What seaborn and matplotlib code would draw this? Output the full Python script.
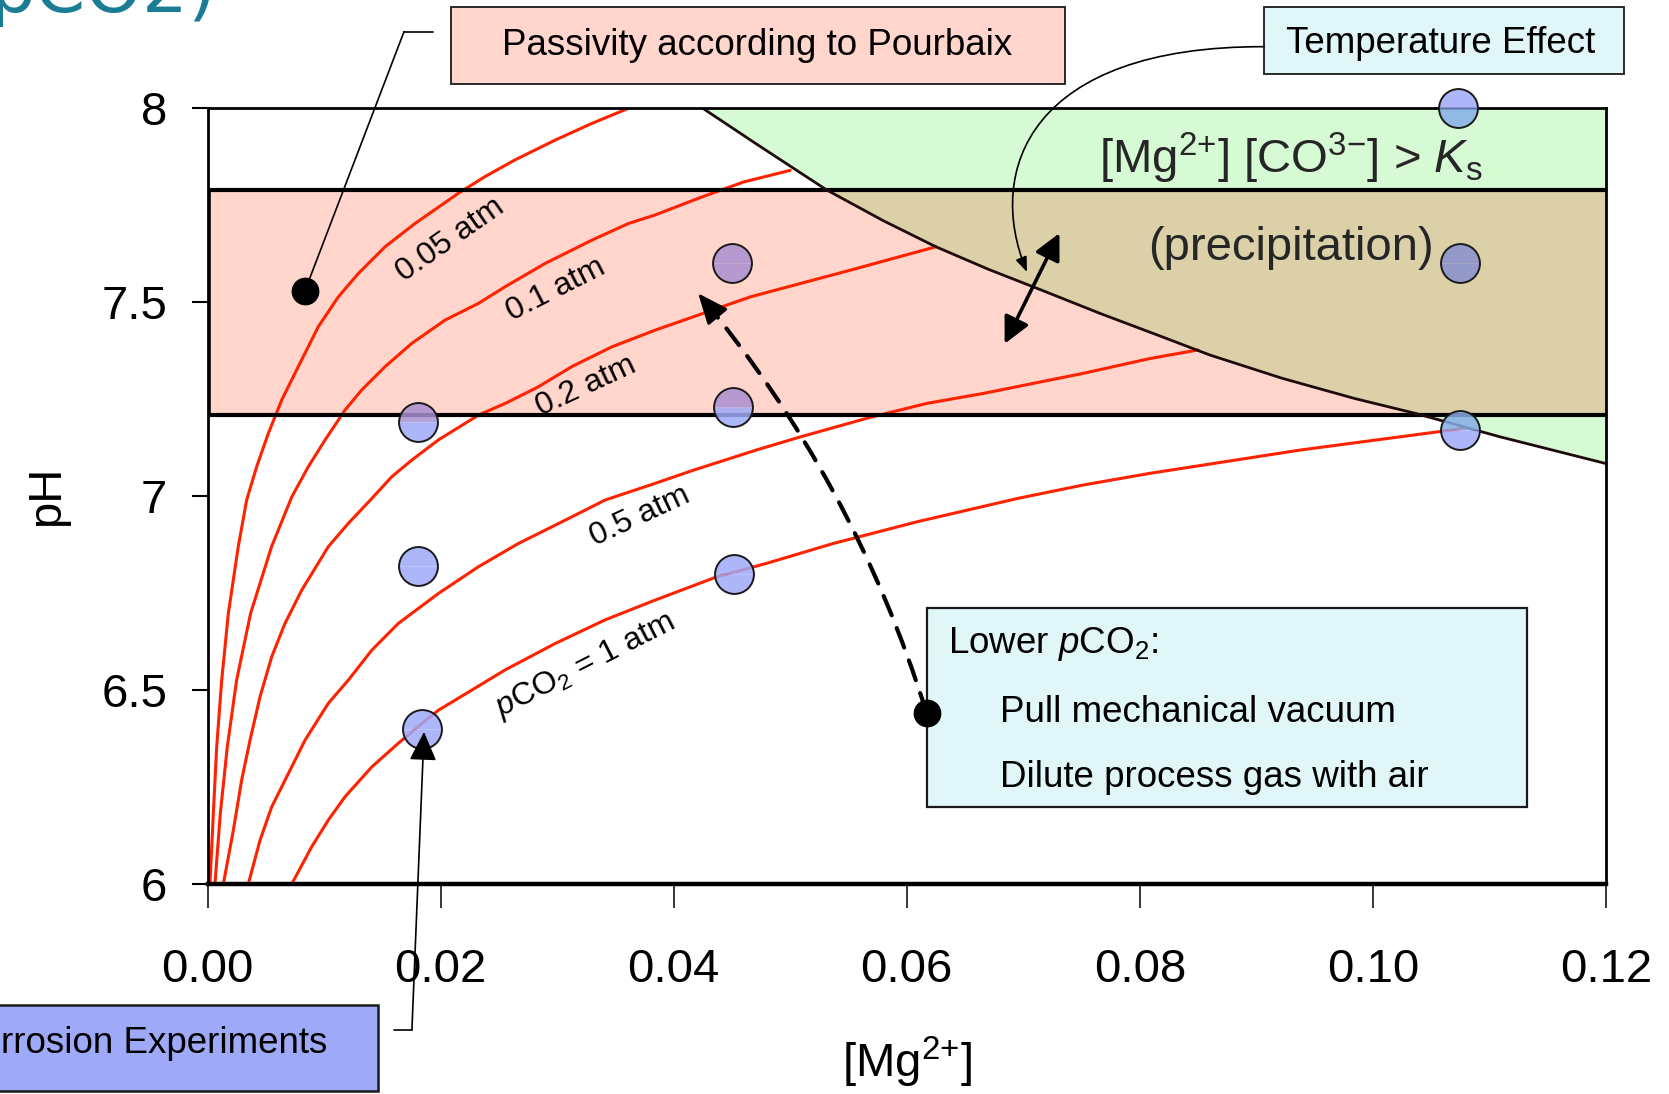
import numpy as np
import pandas as pd
import matplotlib
matplotlib.use("Agg")
import matplotlib.pyplot as plt
import seaborn as sns
from matplotlib.patches import Rectangle, FancyArrowPatch
from matplotlib.path import Path
from matplotlib.lines import Line2D
from matplotlib.ticker import FixedLocator, FuncFormatter


# ====================================
# DATA
# ====================================

# pCO2 isopleths: [Mg2+] vs pH
pco2_labels = ["0.05 atm", "0.1 atm", "0.2 atm", "0.5 atm", "1 atm"]

mg_005 = [0.00021, 0.00050, 0.00079, 0.00122, 0.00179, 0.00264, 0.00336, 0.00422, 0.00522,
          0.00637, 0.00779, 0.00951, 0.01123, 0.01294, 0.01524, 0.01781, 0.02153, 0.02382,
          0.02639, 0.02983, 0.03298, 0.03612]
ph_005 = [6.000, 6.182, 6.354, 6.526, 6.698, 6.870, 6.990, 7.076, 7.162,
          7.248, 7.334, 7.437, 7.514, 7.574, 7.643, 7.703, 7.781, 7.824,
          7.867, 7.918, 7.961, 8.000]

mg_01 = [0.00064, 0.0011, 0.0017, 0.0025, 0.0037, 0.0055, 0.00723, 0.00865, 0.01009, 0.01180,
         0.01324, 0.01524, 0.01753, 0.02039, 0.02325, 0.02554, 0.02897, 0.03298, 0.03612,
         0.03841, 0.0423, 0.0460, 0.0500]
ph_01 = [6.000, 6.182, 6.354, 6.526, 6.698, 6.870, 6.998, 7.076, 7.145, 7.222,
         7.274, 7.334, 7.394, 7.454, 7.497, 7.540, 7.600, 7.660, 7.703,
         7.725, 7.770, 7.810, 7.840]

mg_02 = [0.00136, 0.00222, 0.00293, 0.00365, 0.00451, 0.00551, 0.00665, 0.00809, 0.01037,
         0.01209, 0.01410, 0.01581, 0.01753, 0.01981, 0.02325, 0.02554, 0.02840, 0.03126,
         0.03470, 0.03841, 0.0466, 0.0552, 0.0625]
ph_02 = [6.000, 6.139, 6.268, 6.371, 6.483, 6.586, 6.672, 6.758, 6.870,
         6.930, 6.994, 7.050, 7.093, 7.145, 7.209, 7.239, 7.282, 7.334,
         7.385, 7.428, 7.514, 7.583, 7.643]

mg_05 = [0.00350, 0.00451, 0.00551, 0.00694, 0.00837, 0.01037, 0.01209, 0.01410, 0.01638,
         0.01981, 0.02325, 0.02668, 0.03069, 0.03412, 0.03841, 0.0417, 0.0471, 0.0509,
         0.0566, 0.0617, 0.0666, 0.0752, 0.0809, 0.0850]
ph_05 = [6.000, 6.113, 6.199, 6.285, 6.371, 6.466, 6.526, 6.603, 6.672,
         6.749, 6.818, 6.878, 6.938, 6.990, 7.033, 7.067, 7.119, 7.153,
         7.201, 7.239, 7.265, 7.317, 7.355, 7.377]

mg_1 = [0.00723, 0.00894, 0.01037, 0.01180, 0.01410, 0.01638, 0.01839, 0.01981, 0.02268,
        0.02554, 0.02983, 0.03412, 0.03841, 0.0437, 0.0480, 0.0537, 0.0609, 0.0695,
        0.0752, 0.0809, 0.0938, 0.1066, 0.1080]
ph_1 = [6.000, 6.096, 6.165, 6.225, 6.302, 6.363, 6.414, 6.448, 6.500,
        6.552, 6.620, 6.681, 6.732, 6.792, 6.827, 6.878, 6.934, 6.994,
        7.029, 7.059, 7.119, 7.170, 7.176]

# precipitation boundary [Mg2+][CO3] = Ks
boundary_mg = [0.0425, 0.0470, 0.0531, 0.0580, 0.0625, 0.0670, 0.0715, 0.0766,
               0.0819, 0.0860, 0.0922, 0.0984, 0.1037, 0.1109, 0.1200]
boundary_ph = [8.00, 7.91, 7.79, 7.71, 7.643, 7.585, 7.532, 7.471,
               7.411, 7.364, 7.304, 7.252, 7.213, 7.153, 7.084]

# passivity band (Pourbaix)
band_low = 7.21
band_high = 7.79

# corrosion experiments
exp_mg = [0.0184, 0.0181, 0.0181, 0.0452, 0.0451, 0.0450, 0.1073, 0.1075, 0.1075]
exp_ph = [6.40, 6.82, 7.19, 6.80, 7.23, 7.60, 8.00, 7.60, 7.17]

# curve label positions (centre) and angles
label_mg = [0.0208, 0.0299, 0.0325, 0.0371, 0.0324]
label_ph = [7.660, 7.533, 7.284, 6.947, 6.564]
label_txt = ["0.05 atm", "0.1 atm", "0.2 atm", "0.5 atm", r"$p$CO$_2$ = 1 atm"]
label_rot = [35, 27, 25, 25, 27]

# ====================================
# STYLE
# ====================================

sns.set_theme(style="white")
plt.rcParams['font.family'] = ['Liberation Sans', 'DejaVu Sans']
plt.rcParams['mathtext.fontset'] = 'custom'
plt.rcParams['mathtext.rm'] = 'Liberation Sans'
plt.rcParams['mathtext.it'] = 'Liberation Sans:italic'
plt.rcParams['mathtext.bf'] = 'Liberation Sans:bold'

RED = '#FF2200'
PINK = '#FFD5CC'
GREEN = '#D5FAD4'
TAN = '#DBD0A8'
CYAN = '#E0F6F8'
BLUE = '#9EAAF8'

# how the experiment circles look on top of each region
circle_tint = {'white': BLUE, 'pink': '#A88FD0', 'tan': '#8790D0', 'green': '#86AEE8'}

W, H = 1669, 1094
fig = plt.figure(figsize=(W / 100, H / 100), dpi=100)
ax = fig.add_axes([207.5 / W, 1 - 884 / H, (1606 - 207.5) / W, (884 - 108.3) / H])
ax.set_xlim(0, 0.12)
ax.set_ylim(6, 8)


def fig_xy(px, py):
    # pixel position in the picture -> figure fraction
    return px / W, 1 - py / H


# ====================================
# REGIONS
# ====================================

ax.fill_between([0, 0.12], band_low, band_high, color=PINK, lw=0, zorder=1)
ax.fill_between(boundary_mg, boundary_ph, 8, color=GREEN, lw=0, zorder=1.1)
tan_low = np.clip(boundary_ph, band_low, band_high)
ax.fill_between(boundary_mg, tan_low, band_high, color=TAN, lw=0, zorder=1.2)

# ====================================
# pCO2 CURVES
# ====================================

curves = pd.concat([
    pd.DataFrame({'mg': m, 'ph': p, 'pco2': lab})
    for lab, m, p in zip(pco2_labels,
                         [mg_005, mg_01, mg_02, mg_05, mg_1],
                         [ph_005, ph_01, ph_02, ph_05, ph_1])
])
sns.lineplot(data=curves, x='mg', y='ph', units='pco2', estimator=None, sort=False,
             color=RED, lw=2.2, legend=False, ax=ax, zorder=2)

ax.hlines([band_low, band_high], 0, 0.12, color='black', lw=3, zorder=2.5)
ax.vlines(0, band_low, band_high, color='black', lw=4, zorder=2.5)

sns.lineplot(x=boundary_mg, y=boundary_ph, sort=False, color='#1E0C0C', lw=2,
             ax=ax, zorder=3)

for txt, x, y, r in zip(label_txt, label_mg, label_ph, label_rot):
    ax.text(x, y, txt, rotation=r, rotation_mode='anchor', ha='center', va='center',
            fontsize=23, color='black', zorder=3)

ax.text(0.0930, 7.833, r"[Mg$^{2{+}}$] [CO$^{3{-}}$] > $K_\mathrm{s}$", ha='center',
        va='baseline', fontsize=34, zorder=3)
ax.text(0.0930, 7.609, "(precipitation)", ha='center', va='baseline', fontsize=34, zorder=3)


# ====================================
# EXPERIMENT POINTS
# ====================================

def region_name(x, y):
    b = np.interp(x, boundary_mg, boundary_ph, left=99)
    above = y >= b
    if y > 8:
        return 'white'
    if band_low <= y <= band_high:
        return 'tan' if above else 'pink'
    return 'green' if above else 'white'


for x, y in zip(exp_mg, exp_ph):
    top = circle_tint[region_name(x, y + 0.03)]
    bot = circle_tint[region_name(x, y - 0.03)]
    # filled halves without edge, then the outline
    ax.plot(x, y, marker='o', ms=28, fillstyle='top', mfc=top, mfcalt=bot,
            mec='none', mew=0, alpha=0.85, zorder=4, clip_on=False)
    ax.plot(x, y, marker='o', ms=28, mfc='none', mec='#1a1a1a', mew=1.4,
            zorder=4.1, clip_on=False)

# ====================================
# AXES
# ====================================

ax.xaxis.set_major_locator(FixedLocator([0, 0.02, 0.04, 0.06, 0.08, 0.10, 0.12]))
ax.yaxis.set_major_locator(FixedLocator([6, 6.5, 7, 7.5, 8]))
ax.xaxis.set_major_formatter(FuncFormatter(lambda v, p: f"{v:.2f}"))
ax.yaxis.set_major_formatter(FuncFormatter(lambda v, p: f"{v:g}"))
ax.tick_params(axis='x', bottom=True, direction='out', length=17, width=1.1,
               pad=29, labelsize=34, colors='black')
ax.tick_params(axis='y', left=True, direction='out', length=11.5, width=1.5,
               pad=17.5, labelsize=34, colors='black')
for side, s in ax.spines.items():
    s.set_color('black')
    s.set_linewidth(2)
    s.set_zorder(3.5)
ax.spines['bottom'].set_linewidth(3.2)

ax.set_xlabel("[Mg$^{2{+}}$]", fontsize=34, labelpad=31, color='black')
ax.set_ylabel("pH", fontsize=34, labelpad=23, color='black')

# ====================================
# ANNOTATIONS
# ====================================

TF = fig.transFigure


def box(x0, y0, x1, y1, fc, lw=1.3):
    (fx0, fy1), (fx1, fy0) = fig_xy(x0, y0), fig_xy(x1, y1)
    ax.add_patch(Rectangle((fx0, fy0), fx1 - fx0, fy1 - fy0, transform=TF,
                           fc=fc, ec='#1a1a1a', lw=lw, clip_on=False, zorder=6))


def ftext(px, py, s, ha='left', size=26.5):
    fx, fy = fig_xy(px, py)
    ax.text(fx, fy, s, transform=TF, ha=ha, va='baseline', fontsize=size,
            color='black', zorder=7, clip_on=False)


def fline(pts, lw=1.2):
    xs = [p[0] / W for p in pts]
    ys = [1 - p[1] / H for p in pts]
    ax.add_line(Line2D(xs, ys, transform=TF, color='black', lw=lw, clip_on=False, zorder=6))


# slide title remnant
tx, ty = fig_xy(-10, 11.7)
ax.text(tx, ty, "pCO2)", transform=TF, fontsize=52, color='#1B7D95', va='baseline',
        family='DejaVu Sans', clip_on=False, zorder=7)

# Passivity box
box(451, 7.5, 1064.5, 84.3, PINK)
ftext(757.5, 55, "Passivity according to Pourbaix", ha='center')
fline([(433, 31.7), (404, 31.7)])
ax.annotate('', xy=(0.00837, 7.530), xycoords='data',
            xytext=fig_xy(404, 31.7), textcoords='figure fraction',
            arrowprops=dict(arrowstyle='-', lw=1.2, color='black', shrinkA=0, shrinkB=0),
            annotation_clip=False, zorder=6)
ax.plot(0.00837, 7.530, 'o', color='black', ms=19, zorder=6)

# Temperature effect box
box(1264, 7.5, 1623.5, 74, CYAN)
ftext(1441, 53.3, "Temperature Effect", ha='center')
curve_pts = [fig_xy(1264, 46.7), fig_xy(1030, 46), fig_xy(985, 170), fig_xy(1027, 272)]
temp_arrow = FancyArrowPatch(path=Path(curve_pts, [Path.MOVETO, Path.CURVE4, Path.CURVE4, Path.CURVE4]),
                             arrowstyle='-|>,head_length=9,head_width=3.5', mutation_scale=1,
                             lw=1.2, color='black', transform=TF, clip_on=False, zorder=6)
ax.add_patch(temp_arrow)

# double arrow (temperature shifts the boundary)
ax.annotate('', xy=(0.0731, 7.678), xytext=(0.0684, 7.393),
            arrowprops=dict(arrowstyle='<|-|>,head_length=16,head_width=8', mutation_scale=1,
                            lw=2.6, color='black', shrinkA=0, shrinkB=0), zorder=6)

# Lower pCO2 box with dashed arrow
box(927, 607.5, 1526.5, 806.5, CYAN, lw=1.6)
ftext(947.7, 653, r"Lower $p$CO$_2$:")
ftext(999.6, 722, "Pull mechanical vacuum")
ftext(999.6, 787, "Dilute process gas with air")
ax.annotate('', xy=(0.0421, 7.523), xytext=(0.0617, 6.441),
            arrowprops=dict(arrowstyle='-', lw=3, color='black', ls=(0, (5, 3.3)),
                            connectionstyle='arc3,rad=0.1', shrinkA=0, shrinkB=0), zorder=6)
ax.annotate('', xy=(0.0421, 7.523), xytext=(9.2, -11.1), textcoords='offset points',
            arrowprops=dict(arrowstyle='-|>,head_length=19,head_width=8', mutation_scale=1,
                            lw=2, color='black', shrinkA=0, shrinkB=0), zorder=6)
ax.plot(0.0617, 6.441, 'o', color='black', ms=19, zorder=8, clip_on=False)

# Corrosion experiments box
box(-100, 1005, 378, 1091, BLUE, lw=1.8)
ftext(327, 1053, "Corrosion Experiments", ha='right')
fline([(393.8, 1030), (411.9, 1030)])
ax.annotate('', xy=(0.01858, 6.392), xycoords='data',
            xytext=fig_xy(411.9, 1030), textcoords='figure fraction',
            arrowprops=dict(arrowstyle='-|>,head_length=18,head_width=8.5', mutation_scale=1,
                            lw=1.2, color='black', shrinkA=0, shrinkB=0),
            annotation_clip=False, zorder=6)

fig.savefig("out.png", dpi=100)
